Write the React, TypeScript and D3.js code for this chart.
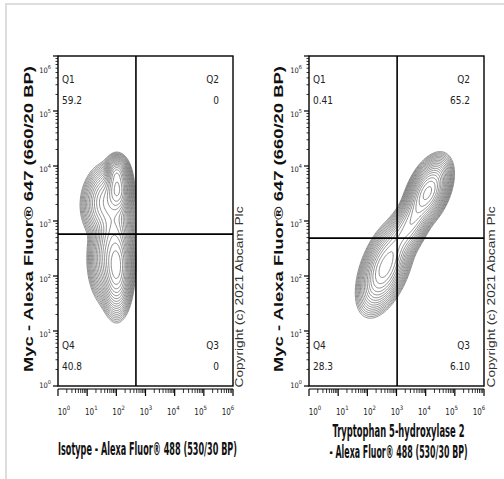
import React from "react";
import * as d3 from "d3";

// decades shown on both log axes (10^0 .. 10^6)
const decades = [0, 1, 2, 3, 4, 5, 6];
const quadrantNames = ["Q1", "Q2", "Q3", "Q4"];

// Isotype control panel
const isotypeQuadrants = ["59.2", "0", "0", "40.8"];
const isotypeGate = { x: 470, y: 575 };
// density components, in log10 units
const isotypeClusters = [
  { cx: 2.02, cy: 3.56, sx: 0.17, sy: 0.19, rho: 0.0, w: 1.0 },
  { cx: 1.65, cy: 3.35, sx: 0.3, sy: 0.24, rho: 0.1, w: 0.25 },
  { cx: 2.0, cy: 3.85, sx: 0.14, sy: 0.11, rho: 0.0, w: 0.4 },
  { cx: 2.0, cy: 2.15, sx: 0.19, sy: 0.3, rho: 0.0, w: 0.8 },
  { cx: 1.75, cy: 2.3, sx: 0.26, sy: 0.3, rho: 0.0, w: 0.22 },
  { cx: 1.9, cy: 2.85, sx: 0.24, sy: 0.3, rho: 0.0, w: 0.2 },
];

// Tryptophan 5-hydroxylase 2 panel
const tph2Quadrants = ["0.41", "65.2", "6.10", "28.3"];
const tph2Gate = { x: 1050, y: 490 };
const tph2Clusters = [
  { cx: 4.08, cy: 3.52, sx: 0.26, sy: 0.21, rho: 0.45, w: 1.0 },
  { cx: 3.65, cy: 3.1, sx: 0.3, sy: 0.3, rho: 0.7, w: 0.35 },
  { cx: 3.1, cy: 2.7, sx: 0.28, sy: 0.25, rho: 0.65, w: 0.16 },
  { cx: 2.6, cy: 2.15, sx: 0.32, sy: 0.29, rho: 0.5, w: 0.45 },
];

const yTitle = "Myc - Alexa Fluor® 647 (660/20 BP)";
const isotypeXTitle = ["Isotype - Alexa Fluor® 488 (530/30 BP)"];
const tph2XTitle = ["Tryptophan 5-hydroxylase 2", "- Alexa Fluor® 488 (530/30 BP)"];
const copyright = "Copyright (c) 2021 Abcam Plc";

const narrow = "'Liberation Sans Narrow', 'DejaVu Sans Condensed', 'Arial Narrow', sans-serif";
const sans = "'Liberation Sans', Arial, sans-serif";

type Cluster = { cx: number; cy: number; sx: number; sy: number; rho: number; w: number };

const top = 56;
const bottom = 386;

function Panel({
  x0,
  x1,
  clusters,
  gate,
  quadrants,
  xTitle,
  xTitleLens,
  xTitleY,
  yTitleX,
  copyX,
  id,
}: {
  x0: number;
  x1: number;
  clusters: Cluster[];
  gate: { x: number; y: number };
  quadrants: string[];
  xTitle: string[];
  xTitleLens: number[];
  xTitleY: number[];
  yTitleX: number;
  copyX: number;
  id: string;
}) {
  const x = d3.scaleLog().domain([1, 1e6]).range([x0, x1]);
  const y = d3.scaleLog().domain([1, 1e6]).range([bottom, top]);
  const xLabel = d3.scaleLinear().domain([0, 6]).range([x0 + 6, x1 - 5]);

  // density grid in log space
  const step = 0.025;
  const n = Math.round(6 / step) + 1;
  const values = new Array(n * n);
  for (let j = 0; j < n; j++) {
    for (let i = 0; i < n; i++) {
      const lx = i * step;
      const ly = j * step;
      let v = 0;
      for (const c of clusters) {
        const dx = (lx - c.cx) / c.sx;
        const dy = (ly - c.cy) / c.sy;
        const q = (dx * dx - 2 * c.rho * dx * dy + dy * dy) / (1 - c.rho * c.rho);
        v += c.w * Math.exp(-0.5 * q);
      }
      values[j * n + i] = v;
    }
  }
  const max = d3.max(values) as number;
  const levels = d3.range(19).map((k) => max * Math.pow(0.72, k + 0.4));
  const contours = d3.contours().size([n, n]).thresholds(levels)(values);
  const path = d3.geoPath(
    d3.geoTransform({
      point(px: number, py: number) {
        this.stream.point(x(Math.pow(10, px * step)), y(Math.pow(10, py * step)));
      },
    })
  );

  const minor: number[] = [];
  decades.slice(0, -1).forEach((d) => {
    for (let m = 2; m < 10; m++) minor.push(Math.pow(10, d) * m);
  });

  const gx = x(gate.x);
  const gy = y(gate.y);
  const axisY = bottom + 3;

  return (
    <g>
      <defs>
        <clipPath id={id}>
          <rect x={x0} y={top} width={x1 - x0} height={bottom - top} />
        </clipPath>
      </defs>

      {/* Contours */}
      <g clipPath={`url(#${id})`} fill="none" stroke="#666" strokeWidth={0.75}>
        {contours.map((c, i) => (
          <path key={i} d={path(c as any) || ""} />
        ))}
      </g>

      {/* Frame */}
      <rect x={x0} y={top} width={x1 - x0} height={bottom - top} fill="none" stroke="#000" strokeWidth={1.4} />

      {/* Gates */}
      <line x1={gx} x2={gx} y1={top} y2={bottom} stroke="#000" strokeWidth={1.6} />
      <line x1={x0} x2={x1} y1={gy} y2={gy} stroke="#000" strokeWidth={1.8} />

      {/* Y axis ticks */}
      {decades.map((d) => (
        <line key={"ym" + d} x1={x0 - 5} x2={x0} y1={y(Math.pow(10, d))} y2={y(Math.pow(10, d))} stroke="#000" strokeWidth={1.2} />
      ))}
      {minor.map((v) => (
        <line key={"yn" + v} x1={x0 - 2.5} x2={x0} y1={y(v)} y2={y(v)} stroke="#000" strokeWidth={0.8} />
      ))}
      {decades.map((d) => (
        <text
          key={"yl" + d}
          x={x0 - 7}
          y={Math.min(388, Math.max(73, y(Math.pow(10, d)) + 6))}
          textAnchor="end"
          fontFamily={narrow}
          fontSize={7.5}
          fill="#222"
        >
          10
          <tspan dy={-4.5} fontSize={5.5}>
            {d}
          </tspan>
        </text>
      ))}

      {/* X axis */}
      <line x1={x0} x2={x1} y1={axisY} y2={axisY} stroke="#000" strokeWidth={1.2} />
      {decades.map((d) => (
        <line key={"xm" + d} x1={x(Math.pow(10, d))} x2={x(Math.pow(10, d))} y1={axisY} y2={axisY + 7} stroke="#000" strokeWidth={1.2} />
      ))}
      {minor.map((v) => (
        <line key={"xn" + v} x1={x(v)} x2={x(v)} y1={axisY} y2={axisY + 4} stroke="#000" strokeWidth={0.8} />
      ))}
      {decades.map((d) => (
        <text key={"xl" + d} x={xLabel(d)} y={415} textAnchor="middle" fontFamily={narrow} fontSize={8} fill="#222">
          10
          <tspan dy={-5.5} fontSize={6}>
            {d}
          </tspan>
        </text>
      ))}

      {/* Quadrant labels */}
      <g fontFamily={narrow} fontSize={10} fill="#222">
        <text x={x0 + 4} y={83}>{quadrantNames[0]}</text>
        <text x={x0 + 4} y={104}>{quadrants[0]}</text>
        <text x={x1 - 14} y={83} textAnchor="end">{quadrantNames[1]}</text>
        <text x={x1 - 14} y={104} textAnchor="end">{quadrants[1]}</text>
        <text x={x1 - 14} y={349} textAnchor="end">{quadrantNames[2]}</text>
        <text x={x1 - 14} y={370} textAnchor="end">{quadrants[2]}</text>
        <text x={x0 + 4} y={349}>{quadrantNames[3]}</text>
        <text x={x0 + 4} y={370}>{quadrants[3]}</text>
      </g>

      {/* Axis titles */}
      <text
        transform={`translate(${yTitleX},219) rotate(-90)`}
        textAnchor="middle"
        dominantBaseline="middle"
        fontFamily={sans}
        fontWeight="bold"
        fontSize={12.5}
        textLength={306}
        lengthAdjust="spacingAndGlyphs"
        fill="#111"
      >
        {yTitle}
      </text>
      {xTitle.map((t, i) => (
        <text
          key={t}
          transform={`translate(${(x0 + x1) / 2 + 2},${xTitleY[i]}) scale(1,1.6)`}
          textAnchor="middle"
          fontFamily={narrow}
          fontWeight="bold"
          fontSize={10.5}
          textLength={xTitleLens[i]}
          lengthAdjust="spacingAndGlyphs"
          fill="#111"
        >
          {t}
        </text>
      ))}
      <text
        transform={`translate(${copyX},297) rotate(-90)`}
        textAnchor="middle"
        dominantBaseline="middle"
        fontFamily={sans}
        fontSize={10}
        textLength={181}
        lengthAdjust="spacingAndGlyphs"
        fill="#333"
      >
        {copyright}
      </text>
    </g>
  );
}

export default function App() {
  return (
    <svg width={504} height={479} style={{ position: "absolute", left: 0, top: 0, background: "#fff" }}>
      <rect width={504} height={479} fill="#fff" />
      <line x1={5} x2={504} y1={4} y2={4} stroke="#ddd" strokeWidth={2} />
      <line x1={6} x2={6} y1={4} y2={479} stroke="#ddd" strokeWidth={2} />
      <Panel
        id="clipA"
        x0={58}
        x1={233}
        clusters={isotypeClusters}
        gate={isotypeGate}
        quadrants={isotypeQuadrants}
        xTitle={isotypeXTitle}
        xTitleLens={[179]}
        xTitleY={[455]}
        yTitleX={30}
        copyX={240}
      />
      <Panel
        id="clipB"
        x0={309}
        x1={484}
        clusters={tph2Clusters}
        gate={tph2Gate}
        quadrants={tph2Quadrants}
        xTitle={tph2XTitle}
        xTitleLens={[132, 138]}
        xTitleY={[437, 458]}
        yTitleX={280}
        copyX={492}
      />
    </svg>
  );
}
